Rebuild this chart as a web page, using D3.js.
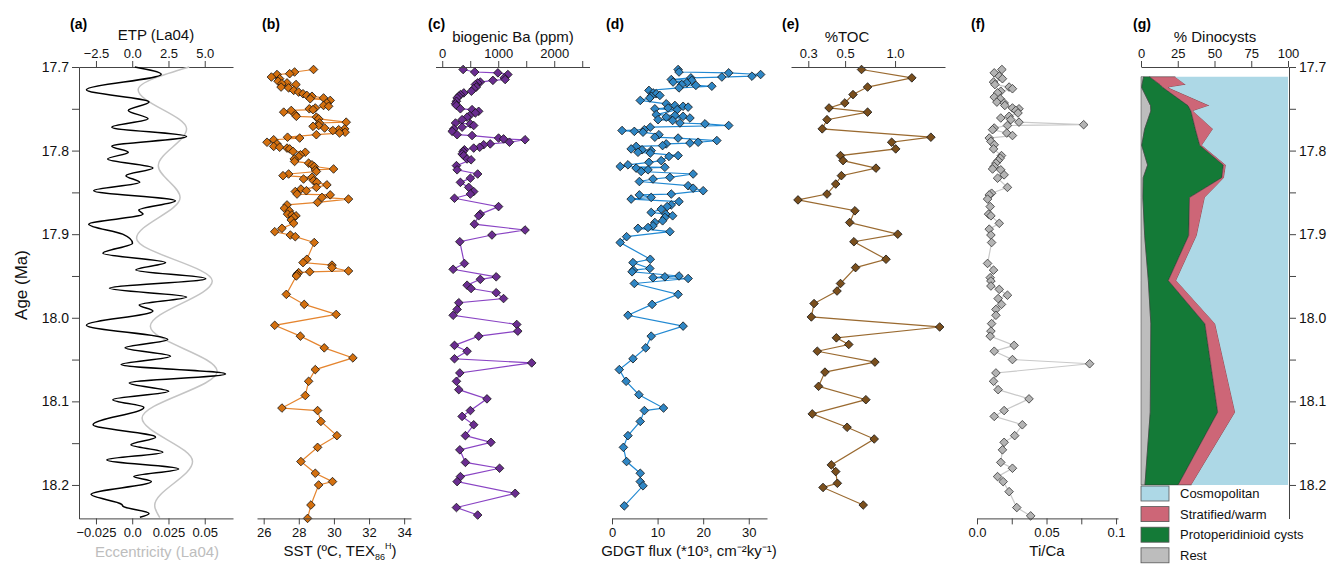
<!DOCTYPE html>
<html>
<head>
<meta charset="utf-8">
<script src="https://cdn.jsdelivr.net/npm/d3@7"></script>
<style>
  body { margin: 0; background: #fff; }
  svg { font-family: "Liberation Sans", Arial, sans-serif; }
</style>
</head>
<body>
<script>
// ---------- Datos (edad en Ma, valor) ----------
const etp = [[17.700,0.18],[17.7088,2.0],[17.7272,-3.16],[17.742,1.16],[17.752,-0.27],[17.762,1.09],[17.772,-1.41],[17.7832,3.75],[17.7948,-1.41],[17.802,-0.27],[17.81,-1.70],[17.8208,1.43],[17.83,-0.43],[17.838,0.52],[17.848,-2.66],[17.86,2.98],[17.8712,0.45],[17.876,0.75],[17.888,-3.0],[17.9,-0.66],[17.9108,0.02],[17.9228,-2.02],[17.934,2.30],[17.9428,0.25],[17.9532,5.07],[17.9648,-1.57],[17.9752,3.75],[17.9848,0.48],[17.992,1.43],[18.0088,-3.16],[18.026,2.45],[18.036,-0.5],[18.046,2.64],[18.056,-0.77],[18.0672,6.43],[18.078,-0.2],[18.088,2.52],[18.098,-1.34],[18.1072,0.80],[18.128,-2.70],[18.1428,1.61],[18.152,-0.09],[18.1608,2.11],[18.17,-1.75],[18.1808,3.2],[18.19,0.11],[18.196,1.32],[18.2112,-2.84],[18.2232,-0.73],[18.226,-0.6],[18.234,1.16],[18.2387,0.53]];

const excentricidad = [[17.700,0.0393],[17.7272,0.0041],[17.774,0.0375],[17.818,0.018],[17.856,0.033],[17.9048,0.003],[17.956,0.0552],[18.01,0.0125],[18.064,0.0586],[18.12,0.0068],[18.172,0.0416],[18.2245,0.0155],[18.239,0.019]];

const sst = [[17.703,28.84],[17.706,27.76],[17.708,27.48],[17.709,26.76],[17.712,26.44],[17.714,26.91],[17.717,26.82],[17.719,27.33],[17.720,27.04],[17.721,27.84],[17.724,26.99],[17.725,27.42],[17.728,27.71],[17.730,27.99],[17.732,28.24],[17.734,28.46],[17.735,28.75],[17.737,29.41],[17.738,28.65],[17.740,29.79],[17.743,29.60],[17.746,29.41],[17.747,29.70],[17.749,28.94],[17.750,28.60],[17.751,28.81],[17.752,27.57],[17.754,27.14],[17.757,27.80],[17.759,27.86],[17.760,29.00],[17.762,29.13],[17.766,30.70],[17.767,29.18],[17.770,29.13],[17.771,28.81],[17.773,29.47],[17.774,30.61],[17.775,30.27],[17.776,29.94],[17.778,30.64],[17.779,30.32],[17.781,29.00],[17.784,27.36],[17.785,28.05],[17.787,26.57],[17.790,26.19],[17.792,26.76],[17.795,26.57],[17.796,26.91],[17.797,27.33],[17.798,27.48],[17.801,27.67],[17.802,28.37],[17.805,28.09],[17.807,27.99],[17.810,27.74],[17.813,27.76],[17.815,28.56],[17.817,28.75],[17.819,28.88],[17.822,29.98],[17.823,28.94],[17.825,29.00],[17.828,27.42],[17.830,27.10],[17.832,28.75],[17.834,28.27],[17.836,28.84],[17.838,29.03],[17.841,29.60],[17.844,29.00],[17.846,28.12],[17.848,28.43],[17.849,27.80],[17.852,27.90],[17.853,29.79],[17.856,29.32],[17.858,30.83],[17.862,29.07],[17.865,27.33],[17.869,27.18],[17.872,27.46],[17.876,27.36],[17.877,27.61],[17.878,27.84],[17.880,27.71],[17.883,27.57],[17.887,27.71],[17.893,27.04],[17.897,26.63],[17.901,27.52],[17.903,27.80],[17.910,28.88],[17.930,28.46],[17.934,28.24],[17.937,29.89],[17.940,29.89],[17.944,30.83],[17.945,28.62],[17.946,27.99],[17.948,27.90],[17.950,27.86],[17.972,27.29],[17.984,28.31],[17.996,30.13],[18.009,26.63],[18.022,28.09],[18.036,29.45],[18.048,31.08],[18.062,28.94],[18.076,28.56],[18.093,28.37],[18.108,27.04],[18.111,29.07],[18.124,29.26],[18.141,30.17],[18.155,29.07],[18.172,28.12],[18.186,28.94],[18.196,29.92],[18.200,29.13],[18.224,28.69],[18.240,28.50]];

const bario = [[17.703,373],[17.706,580],[17.707,994],[17.709,1172],[17.713,1107],[17.715,1124],[17.716,905],[17.718,680],[17.719,633],[17.721,592],[17.724,609],[17.726,562],[17.729,521],[17.731,385],[17.733,325],[17.735,296],[17.737,266],[17.741,254],[17.744,237],[17.746,254],[17.750,325],[17.751,533],[17.753,651],[17.755,592],[17.758,491],[17.760,444],[17.763,355],[17.767,237],[17.768,503],[17.770,562],[17.772,355],[17.774,207],[17.777,178],[17.781,266],[17.782,533],[17.785,1006],[17.786,1095],[17.787,1479],[17.790,1201],[17.792,858],[17.793,740],[17.796,669],[17.797,562],[17.799,396],[17.801,373],[17.804,355],[17.806,385],[17.810,444],[17.811,515],[17.818,254],[17.823,266],[17.828,633],[17.833,503],[17.838,325],[17.844,473],[17.849,562],[17.852,503],[17.857,219],[17.867,1006],[17.876,680],[17.878,651],[17.888,574],[17.895,1479],[17.901,888],[17.909,314],[17.935,396],[17.942,195],[17.951,964],[17.954,680],[17.961,444],[17.965,515],[17.970,964],[17.977,1095],[17.982,296],[17.990,266],[17.997,195],[18.008,1331],[18.016,1349],[18.022,651],[18.033,219],[18.040,444],[18.049,219],[18.054,1598],[18.066,314],[18.076,254],[18.086,296],[18.097,799],[18.111,503],[18.118,355],[18.128,562],[18.141,414],[18.149,870],[18.158,314],[18.173,414],[18.180,1024],[18.190,325],[18.196,266],[18.210,1302],[18.227,254],[18.236,633]];

const gdgt = [[17.703,14.5],[17.706,14.7],[17.707,25.6],[17.709,32.6],[17.711,30.7],[17.712,24.1],[17.713,17.3],[17.715,13.0],[17.716,17.5],[17.718,13.4],[17.719,16.4],[17.721,15.3],[17.722,18.4],[17.723,21.9],[17.725,14.7],[17.728,8.1],[17.731,9.0],[17.732,9.7],[17.734,10.5],[17.735,8.6],[17.737,8.3],[17.740,6.2],[17.744,11.9],[17.746,13.8],[17.747,15.6],[17.748,16.7],[17.749,12.3],[17.750,9.4],[17.751,14.3],[17.757,9.7],[17.758,13.8],[17.759,15.6],[17.760,11.9],[17.761,17.1],[17.763,10.1],[17.764,13.3],[17.767,14.9],[17.768,20.4],[17.770,25.6],[17.772,8.4],[17.775,7.1],[17.776,2.2],[17.777,4.9],[17.778,6.8],[17.781,10.3],[17.784,9.4],[17.785,14.5],[17.788,23.0],[17.790,18.9],[17.791,17.1],[17.792,11.9],[17.794,11.1],[17.795,5.3],[17.798,4.2],[17.799,6.6],[17.800,8.6],[17.802,5.7],[17.803,8.4],[17.806,14.5],[17.807,12.5],[17.812,10.8],[17.814,8.1],[17.817,3.5],[17.819,1.8],[17.820,11.6],[17.821,5.3],[17.823,7.9],[17.825,6.4],[17.828,17.8],[17.832,12.7],[17.834,9.0],[17.837,6.0],[17.842,16.7],[17.845,17.8],[17.848,20.0],[17.852,13.0],[17.853,6.0],[17.856,8.6],[17.858,4.2],[17.861,14.7],[17.865,13.0],[17.867,12.1],[17.870,10.8],[17.874,8.6],[17.876,11.8],[17.878,13.3],[17.880,11.6],[17.884,11.1],[17.886,9.4],[17.890,9.0],[17.892,7.9],[17.893,5.7],[17.897,12.7],[17.903,3.2],[17.910,1.8],[17.930,8.4],[17.934,4.6],[17.941,8.3],[17.943,4.7],[17.945,4.4],[17.950,14.7],[17.951,11.6],[17.952,9.0],[17.953,16.7],[17.959,4.9],[17.972,14.5],[17.984,8.8],[17.997,3.5],[18.010,15.6],[18.022,8.6],[18.036,7.4],[18.049,4.6],[18.062,1.6],[18.076,3.1],[18.092,5.9],[18.108,11.3],[18.111,7.1],[18.124,6.2],[18.141,3.5],[18.155,2.5],[18.172,3.2],[18.186,6.2],[18.196,6.2],[18.201,6.8],[18.225,2.7]];

const toc = [[17.703,0.628],[17.713,1.262],[17.724,0.683],[17.733,0.558],[17.743,0.498],[17.749,0.400],[17.754,0.683],[17.763,0.389],[17.774,0.364],[17.784,1.644],[17.790,0.954],[17.798,1.009],[17.806,0.469],[17.812,0.486],[17.821,0.767],[17.830,0.475],[17.840,0.439],[17.852,0.389],[17.859,0.260],[17.872,0.573],[17.886,0.533],[17.900,1.038],[17.909,0.565],[17.930,0.882],[17.940,0.578],[17.959,0.469],[17.968,0.447],[17.983,0.325],[17.999,0.313],[18.011,1.857],[18.024,0.443],[18.032,0.526],[18.040,0.340],[18.053,0.756],[18.065,0.378],[18.082,0.346],[18.098,0.667],[18.115,0.317],[18.131,0.514],[18.145,0.749],[18.176,0.413],[18.184,0.439],[18.198,0.449],[18.203,0.368],[18.224,0.643]];

const tiCa = [[17.703,0.0179],[17.707,0.0124],[17.711,0.016],[17.714,0.0183],[17.718,0.0119],[17.721,0.0129],[17.724,0.0231],[17.726,0.0255],[17.729,0.0171],[17.731,0.0148],[17.736,0.0124],[17.738,0.0167],[17.742,0.0143],[17.743,0.0195],[17.746,0.020],[17.749,0.0255],[17.750,0.0302],[17.752,0.0279],[17.755,0.0295],[17.759,0.0231],[17.761,0.0171],[17.763,0.0243],[17.766,0.0302],[17.769,0.0767],[17.770,0.0219],[17.773,0.0124],[17.775,0.0112],[17.779,0.0214],[17.782,0.0255],[17.785,0.0088],[17.789,0.010],[17.793,0.0124],[17.798,0.0119],[17.806,0.0176],[17.809,0.0167],[17.812,0.0152],[17.815,0.0136],[17.819,0.0124],[17.822,0.0112],[17.823,0.0171],[17.829,0.0195],[17.833,0.0148],[17.844,0.0219],[17.851,0.0105],[17.853,0.0088],[17.858,0.0076],[17.867,0.0095],[17.876,0.0083],[17.878,0.010],[17.887,0.016],[17.894,0.0088],[17.901,0.010],[17.910,0.0105],[17.935,0.0076],[17.943,0.0119],[17.952,0.0095],[17.956,0.010],[17.962,0.010],[17.966,0.016],[17.973,0.0219],[17.977,0.0152],[17.984,0.0176],[17.990,0.0136],[17.997,0.0136],[18.007,0.0105],[18.016,0.010],[18.022,0.0095],[18.033,0.0267],[18.040,0.0124],[18.050,0.0255],[18.055,0.081],[18.066,0.0136],[18.076,0.0119],[18.086,0.0152],[18.097,0.0374],[18.111,0.0195],[18.118,0.0124],[18.128,0.0326],[18.141,0.0271],[18.149,0.0195],[18.158,0.0183],[18.173,0.0171],[18.180,0.0255],[18.190,0.0148],[18.196,0.0188],[18.208,0.0231],[18.227,0.0286],[18.237,0.0386]];

// Dinoquistes (%): edad de cada muestra y porcentaje de cada grupo
const dinoEdad   = [17.7116, 17.7211, 17.7246, 17.7462, 17.7526, 17.7742, 17.7936, 17.8173, 17.8324, 17.8562, 17.9015, 17.9554, 18.0072, 18.1129, 18.1999];
const dinoResto  = [1.8, 0.7, 0.5, 6.5, 6.7, 2.5, 0.5, 4.5, 1.5, 1.3, 2.5, 5.0, 6.7, 6.3, 2.7];
const dinoProto  = [4.0, 12.3, 14.5, 25.5, 27.3, 34.5, 39.5, 51.5, 53.5, 31.7, 30.0, 13.6, 36.8, 45.9, 22.6];
const dinoEstrat = [17.3, 17.5, 3.6, 14.6, 1.5, 12.0, 1.5, 1.8, 1.5, 10.5, 5.5, 5.4, 7.0, 11.9, 9.0];
const grupos = ["Cosmopolitan", "Stratified/warm", "Protoperidinioid cysts", "Rest"];
const coloresGrupo = ["#add8e6", "#cd6677", "#147a37", "#bdbdbd"];

// Ticks de la edad
const edadTicks = [17.7, 17.8, 17.9, 18.0, 18.1, 18.2];
const edadMenores = [17.75, 17.85, 17.95, 18.05, 18.15];

// ---------- SVG ----------
const svg = d3.select("body").append("svg").attr("width", 1332).attr("height", 564);

const y = d3.scaleLinear().domain([17.7, 18.24]).range([67, 518.4]);
const colorEje = "#444";

// Escalas x de cada panel
const xEtp  = d3.scaleLinear().domain([-3.67, 6.95]).range([79, 233]);
const xExc  = d3.scaleLinear().domain([-0.0367, 0.0695]).range([79, 233]);
const xSst  = d3.scaleLinear().domain([25.62, 34.39]).range([257, 411]);
const xBa   = d3.scaleLinear().domain([-120, 2630]).range([435.5, 589.5]);
const xGdgt = d3.scaleLinear().domain([0, 34]).range([612, 767]);
const xToc  = d3.scaleLog().domain([0.236, 2.0]).range([791, 945]);
const xTi   = d3.scaleLinear().domain([0, 0.1014]).range([977, 1118]);
const xDino = d3.scaleLinear().domain([0, 100]).range([1141, 1288]);

// Función que dibuja un eje con estilo común
function dibujarEje(eje, transform, tam) {
  const g = svg.append("g").attr("transform", transform).call(eje);
  g.selectAll("path, line").attr("stroke", colorEje).attr("stroke-width", 1);
  g.selectAll("text").attr("font-size", tam || 13).attr("fill", "#111")
    .attr("font-family", "Liberation Sans, Arial, sans-serif");
  return g;
}
const fmtMenos = s => s.replace("-", "\u2212");

// ---------- Panel (a) ----------
dibujarEje(d3.axisTop(xEtp).tickValues([-2.5, 0, 2.5, 5]).tickFormat(d => fmtMenos(d3.format(".1f")(d)))
  .tickSize(6).tickSizeOuter(0), `translate(0,${y(17.7)})`);
dibujarEje(d3.axisBottom(xExc).tickValues([-0.025, 0, 0.025, 0.05])
  .tickFormat(d => fmtMenos(d === 0 ? "0.0" : String(d))).tickSize(6).tickSizeOuter(0), `translate(0,${y(18.24)})`);
dibujarEje(d3.axisLeft(y).tickValues(edadTicks).tickFormat(d3.format(".1f")).tickSize(7).tickSizeOuter(0),
  `translate(${xEtp.range()[0]},0)`, 14);
dibujarEje(d3.axisLeft(y).tickValues(edadMenores).tickFormat("").tickSize(7).tickSizeOuter(0),
  `translate(${xEtp.range()[0]},0)`);

svg.append("path").datum(excentricidad)
  .attr("d", d3.line().x(d => xExc(d[1])).y(d => y(d[0])).curve(d3.curveMonotoneY))
  .attr("fill", "none").attr("stroke", "#c4c4c4").attr("stroke-width", 1.5);
svg.append("path").datum(etp)
  .attr("d", d3.line().x(d => xEtp(d[1])).y(d => y(d[0])).curve(d3.curveMonotoneY))
  .attr("fill", "none").attr("stroke", "#000").attr("stroke-width", 1.5);

// ---------- Paneles con puntos ----------
const rombo = "M0,-4.3L4.3,0L0,4.3L-4.3,0Z";
function panelPuntos(datos, x, colorLinea, colorPunto, trazo) {
  const orden = d3.sort(datos, d => d[0]);
  svg.append("path").datum(orden)
    .attr("d", d3.line().x(d => x(d[1])).y(d => y(d[0])))
    .attr("fill", "none").attr("stroke", colorLinea).attr("stroke-width", 1.2);
  svg.append("g").selectAll("path").data(orden).join("path")
    .attr("d", rombo)
    .attr("transform", d => `translate(${x(d[1])},${y(d[0])})`)
    .attr("fill", colorPunto).attr("stroke", trazo || "#111").attr("stroke-width", 0.8);
}

panelPuntos(sst, xSst, "#e5852f", "#d4700f");
dibujarEje(d3.axisBottom(xSst).tickValues([26, 28, 30, 32, 34]).tickSize(6).tickSizeOuter(0), `translate(0,${y(18.24)})`);

panelPuntos(bario, xBa, "#8a44c4", "#6a2d90");
dibujarEje(d3.axisTop(xBa).tickValues([0, 500, 1000, 1500, 2000, 2500])
  .tickFormat(d => d % 1000 === 0 ? d : "").tickSize(6).tickSizeOuter(0), `translate(0,${y(17.7)})`);

panelPuntos(gdgt, xGdgt, "#2289d2", "#2f86c4");
dibujarEje(d3.axisBottom(xGdgt).tickValues([0, 10, 20, 30]).tickSize(6).tickSizeOuter(0), `translate(0,${y(18.24)})`);

panelPuntos(toc, xToc, "#9a6a30", "#7a4f1d");
dibujarEje(d3.axisTop(xToc).tickValues([0.3, 0.5, 1.0]).tickFormat(d3.format(".1f")).tickSize(6).tickSizeOuter(0),
  `translate(0,${y(17.7)})`);

panelPuntos(tiCa, xTi, "#c9c9c9", "#b4b4b4", "#333");
dibujarEje(d3.axisBottom(xTi).tickValues([0, 0.025, 0.05, 0.075, 0.1])
  .tickFormat(d => d === 0 ? "0.0" : (d === 0.05 || d === 0.1) ? String(d) : "").tickSize(6).tickSizeOuter(0),
  `translate(0,${y(18.24)})`);

// ---------- Panel (g): área apilada ----------
const filas = dinoEdad.map((e, i) => ({
  edad: e,
  "Rest": dinoResto[i],
  "Protoperidinioid cysts": dinoProto[i],
  "Stratified/warm": dinoEstrat[i],
  "Cosmopolitan": 100 - dinoResto[i] - dinoProto[i] - dinoEstrat[i]
}));
const claves = ["Rest", "Protoperidinioid cysts", "Stratified/warm", "Cosmopolitan"];
const pila = d3.stack().keys(claves)(filas);
const area = d3.area().y(d => y(d.data.edad)).x0(d => xDino(d[0])).x1(d => xDino(d[1]));
const color = d3.scaleOrdinal().domain(grupos).range(coloresGrupo);

svg.append("g").selectAll("path").data(pila).join("path")
  .attr("d", area)
  .attr("fill", d => color(d.key))
  .attr("stroke", d => d.key === "Cosmopolitan" ? "none" : "#333")
  .attr("stroke-width", 0.5);

dibujarEje(d3.axisTop(xDino).tickValues([0, 25, 50, 75, 100]).tickSize(6).tickSizeOuter(0), `translate(0,${y(17.7)})`);
dibujarEje(d3.axisRight(y).tickValues(edadTicks).tickFormat(d3.format(".1f")).tickSize(7).tickSizeOuter(0),
  `translate(${xDino.range()[1] + 1},0)`, 14);
dibujarEje(d3.axisRight(y).tickValues(edadMenores).tickFormat("").tickSize(7).tickSizeOuter(0),
  `translate(${xDino.range()[1] + 1},0)`);

// Leyenda
const leyenda = svg.append("g").attr("transform", "translate(1141,486)");
const filaLey = leyenda.selectAll("g").data(grupos).join("g")
  .attr("transform", (_, i) => `translate(0,${i * 20.6})`);
filaLey.append("rect").attr("width", 28).attr("height", 15)
  .attr("fill", d => color(d)).attr("stroke", "#555").attr("stroke-width", 0.8);
filaLey.append("text").attr("x", 39).attr("y", 12).attr("font-size", 13).attr("fill", "#111").text(d => d);

// ---------- Textos ----------
const letras = [["(a)", 70], ["(b)", 262], ["(c)", 428], ["(d)", 606], ["(e)", 782], ["(f)", 971], ["(g)", 1133]];
svg.selectAll("text.letra").data(letras).join("text").attr("class", "letra")
  .attr("x", d => d[1]).attr("y", 29).attr("font-size", 14).attr("font-weight", "bold").text(d => d[0]);

function texto(t, x, yy, tam, col) {
  return svg.append("text").attr("x", x).attr("y", yy).attr("text-anchor", "middle")
    .attr("font-size", tam).attr("fill", col || "#111").text(t);
}
texto("ETP (La04)", 156, 40, 15);
texto("biogenic Ba (ppm)", 513, 42, 15);
texto("%TOC", 847, 42, 15);
texto("% Dinocysts", 1215, 42, 15);
texto("Eccentricity (La04)", 157, 557, 15, "#bdbdbd");
texto("GDGT flux (*10\u00b3, cm\u207b\u00b2ky\u207b\u00b9)", 689, 556, 15);
texto("Ti/Ca", 1047, 556, 15);

const tSst = svg.append("text").attr("x", 340).attr("y", 556).attr("text-anchor", "middle").attr("font-size", 15).attr("fill", "#111");
tSst.append("tspan").text("SST (\u00baC, TEX");
tSst.append("tspan").attr("font-size", 9).attr("dy", 4).text("86");
tSst.append("tspan").attr("font-size", 9).attr("dy", -11).text("H");
tSst.append("tspan").attr("dy", 7).text(")");

svg.append("text").attr("transform", "translate(27,285) rotate(-90)").attr("text-anchor", "middle")
  .attr("font-size", 17).attr("fill", "#111").text("Age (Ma)");
</script>
</body>
</html>
